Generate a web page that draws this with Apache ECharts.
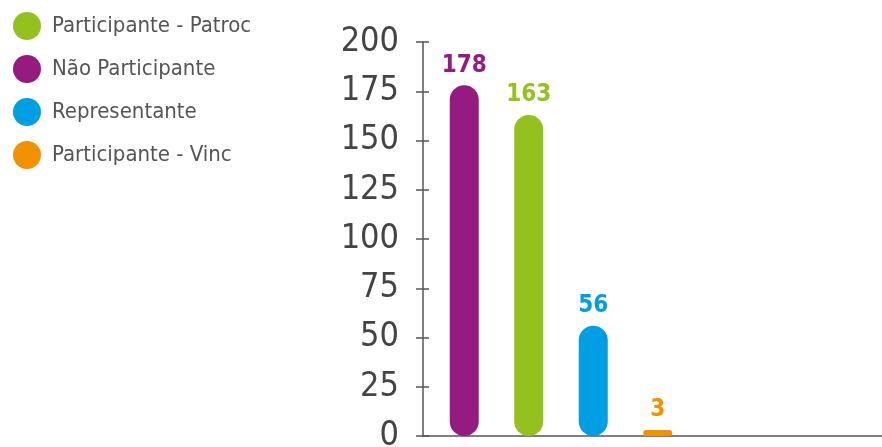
<!DOCTYPE html>
<html>
<head>
<meta charset="utf-8">
<script src="https://cdn.jsdelivr.net/npm/echarts@6/dist/echarts.min.js"></script>
<style>
  html, body { margin: 0; padding: 0; background: #fff; }
  #chart { width: 882px; height: 447px; }
</style>
</head>
<body>
<div id="chart"></div>
<script>
// dados
var categorias = ['Não Participante', 'Participante - Patroc', 'Representante', 'Participante - Vinc'];
var valores = [178, 163, 56, 3];
var cores = ['#951B81', '#95C11F', '#009FE3', '#F39200'];
var ordemLegenda = ['Participante - Patroc', 'Não Participante', 'Representante', 'Participante - Vinc'];
var yMin = 0, yMax = 200, yPasso = 25;

var fonte = "'Liberation Sans Narrow', 'DejaVu Sans Condensed', sans-serif";

// uma série por categoria, para a legenda ter cor própria
var series = categorias.map(function (nome, i) {
  return {
    name: nome,
    type: 'bar',
    xAxisIndex: 0,
    yAxisIndex: 0,
    barWidth: 29,
    barGap: '-100%',
    itemStyle: { color: cores[i], borderRadius: 14.5 },
    label: {
      show: true,
      position: 'top',
      distance: 8,
      color: cores[i],
      fontFamily: fonte,
      fontWeight: 'bold',
      fontSize: 24
    },
    data: categorias.map(function (c, j) { return j === i ? valores[i] : '-'; })
  };
});

var myChart = echarts.init(document.getElementById('chart'));
var option = {
  animation: false,
  legend: {
    orient: 'vertical',
    left: 8,
    top: 7,
    icon: 'circle',
    itemWidth: 28,
    itemHeight: 28,
    itemGap: 15,
    data: ordemLegenda,
    textStyle: {
      fontFamily: fonte,
      fontSize: 22,
      color: '#555',
      padding: [0, 0, 0, 6]
    }
  },
  grid: [
    { left: 432, width: 258, top: 42, bottom: 11, outerBoundsMode: 'none' },   // barras
    { left: 423, right: 0, top: 42, bottom: 11, outerBoundsMode: 'none' }      // eixos
  ],
  xAxis: [
    {
      gridIndex: 0,
      type: 'category',
      data: categorias,
      axisLine: { show: false },
      axisTick: { show: false },
      axisLabel: { show: false }
    },
    {
      gridIndex: 1,
      type: 'value',
      min: 0,
      max: 1,
      axisLine: { show: true, lineStyle: { color: '#555', width: 1.5 } },
      axisTick: { show: false },
      axisLabel: { show: false },
      splitLine: { show: false }
    }
  ],
  yAxis: [
    {
      gridIndex: 0,
      type: 'value',
      min: yMin,
      max: yMax,
      interval: yPasso,
      show: false
    },
    {
      gridIndex: 1,
      type: 'value',
      position: 'left',
      min: yMin,
      max: yMax,
      interval: yPasso,
      axisLine: { show: true, lineStyle: { color: '#555', width: 1.5 } },
      axisTick: { show: true, length: 7, lineStyle: { color: '#555', width: 1.5 } },
      axisLabel: { margin: 24, fontFamily: fonte, fontSize: 34, color: '#444' },
      splitLine: { show: false }
    },
    {
      gridIndex: 1,
      type: 'value',
      position: 'left',
      min: yMin,
      max: yMax,
      interval: yPasso,
      axisLine: { show: false },
      axisTick: { show: true, inside: true, length: 6, lineStyle: { color: '#555', width: 1.5 } },
      axisLabel: { show: false },
      splitLine: { show: false }
    }
  ],
  series: series
};
myChart.setOption(option);
</script>
</body>
</html>
